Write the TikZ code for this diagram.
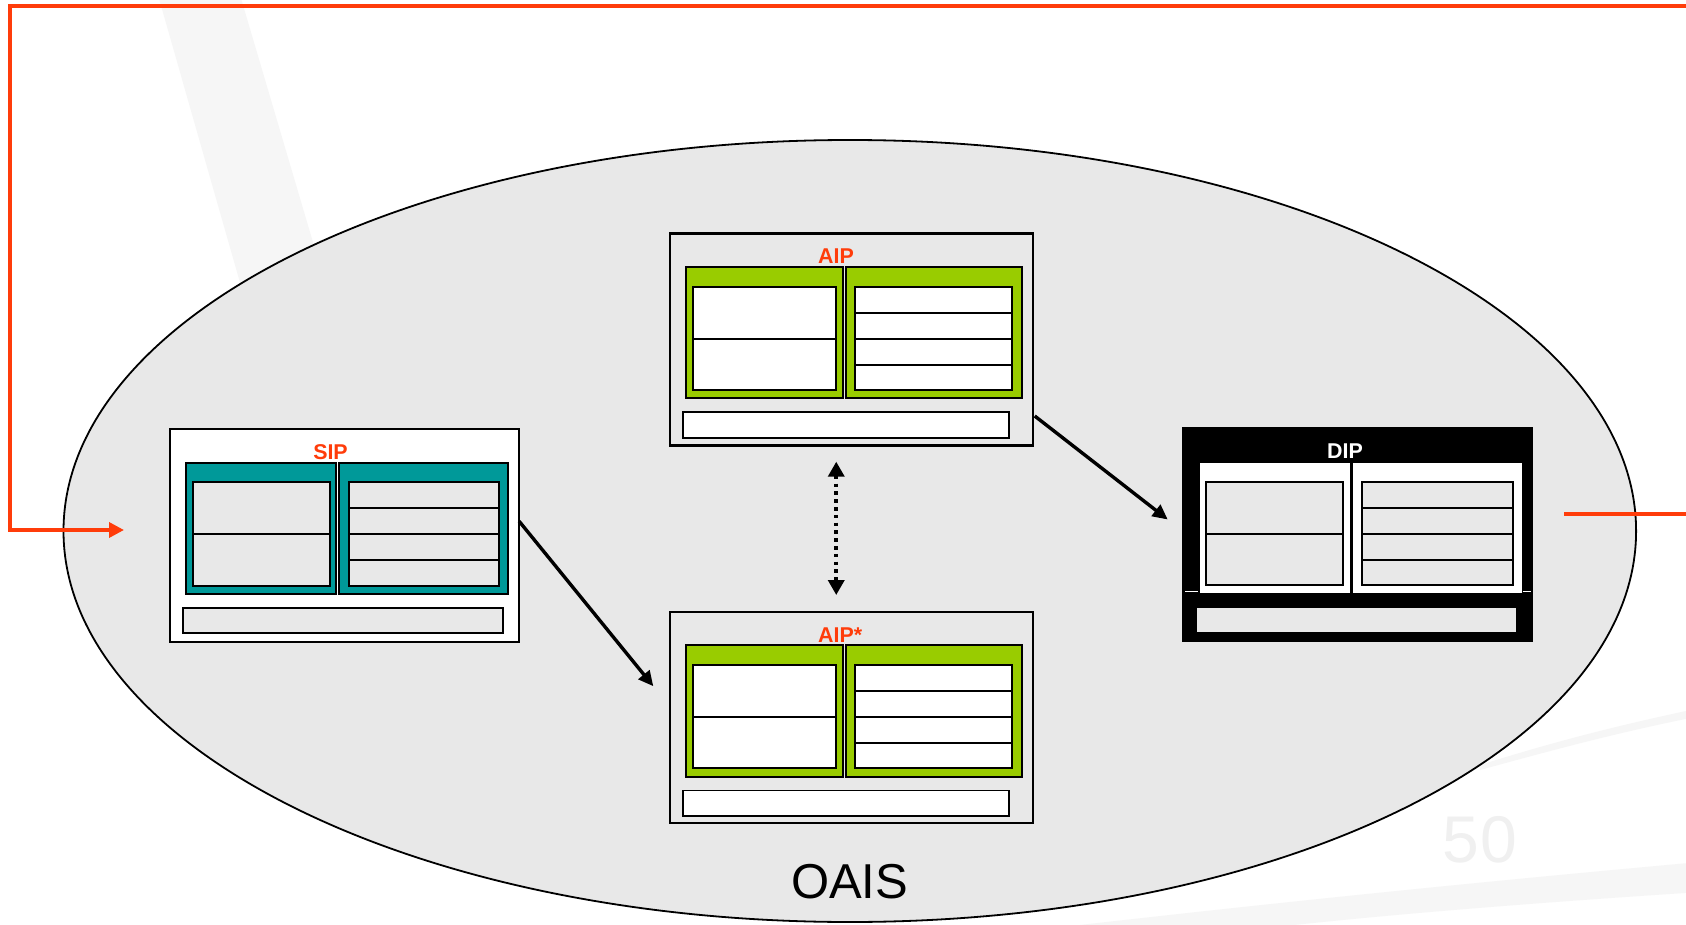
\documentclass[tikz,border=0pt]{standalone}
\usepackage{fontspec}
\setmainfont{Liberation Sans}
\usetikzlibrary{calc,arrows.meta,shapes.geometric}
\definecolor{oaisgray}{HTML}{E8E8E8}
\definecolor{flowred}{HTML}{FF3C0A}
\definecolor{sipteal}{HTML}{009999}
\definecolor{aipgreen}{HTML}{99CC00}
\definecolor{faint}{HTML}{F6F6F6}

\tikzset{
  packet width/.initial=349,
  packet height/.initial=213,
  packet bar margin/.initial=15,
  packet title x/.initial=13,
  packet frame/.style={draw=black, line width=2.4pt, fill=white},
  packet panel/.style={draw=black, line width=2pt, fill=sipteal},
  packet cell/.style={draw=black, line width=2pt, fill=oaisgray},
  packet rule/.style={draw=black, line width=2pt},
  packet bar/.style={draw=black, line width=1.8pt, fill=oaisgray},
  packet title/.style={text=flowred},
  pics/packet/.style={code={
    \pgfmathsetmacro\pktW{\pgfkeysvalueof{/tikz/packet width}}
    \pgfmathsetmacro\pktH{\pgfkeysvalueof{/tikz/packet height}}
    \pgfmathsetmacro\pktM{\pktW/2}
    \pgfmathsetmacro\pktB{\pktW-\pgfkeysvalueof{/tikz/packet bar margin}}
    \pgfmathsetmacro\pktT{\pktM-\pgfkeysvalueof{/tikz/packet title x}}
    \node[packet frame, minimum width=\pktW pt, minimum height=\pktH pt,
          inner sep=0pt, anchor=north west] (-frame) at (0,0) {};
    % content information and preservation description panels
    \draw[packet panel] (17,34.5) rectangle ({\pktM-7.5},166);
    \draw[packet panel] ({\pktM-4.8},34.5) rectangle ({\pktW-10},166);
    \draw[packet cell] (23.7,54.3) rectangle ({\pktM-14},157.7);
    \draw[packet rule] (23.7,106.3) -- ({\pktM-14},106.3);
    \draw[packet cell] ({\pktM+5},54.3) rectangle ({\pktW-19.5},157.7);
    \foreach \yy in {80.3,106.3,132.3}
      \draw[packet rule] ({\pktM+5},\yy) -- ({\pktW-19.5},\yy);
    % packaging information bar
    \draw[packet bar] (14.3,179.7) rectangle (\pktB,205.3);
    \node[packet title, font=\bfseries\fontsize{21.4}{24}\selectfont,
          anchor=base, inner sep=0pt] (-title) at (\pktT,31.3) {#1};
  }},
  flow/.style={draw=black, line width=3.4pt, -{Triangle[length=15pt,width=14pt]}},
  link/.style={draw=black, line width=3.6pt, dash pattern=on 3.6pt off 4.2pt,
    {Triangle[length=15pt,width=16pt]}-{Triangle[length=15pt,width=16pt]}},
  loop/.style={draw=flowred, line width=3.5pt, line join=miter,
    -{Triangle[length=15pt,width=15pt]}},
}

\begin{document}
\begin{tikzpicture}[x=1pt, y=-1pt]
  \useasboundingbox (0,0) rectangle (1686,925);
  \clip (0,0) rectangle (1686,925);
  \fill[white] (0,0) rectangle (1686,925);

  % faint background marks
  \fill[faint] (158,-5) -- (240,-5) -- (330,300) -- (245,300) -- cycle;
  \fill[faint] (1080,925) .. controls (1300,900) and (1500,880) .. (1700,862)
    -- (1700,892) .. controls (1500,905) and (1350,918) .. (1250,930) -- cycle;
  \fill[faint] (1480,765) .. controls (1560,740) and (1620,725) .. (1700,708)
    -- (1700,716) .. controls (1620,732) and (1560,748) .. (1480,770) -- cycle;
  \node[text=black!6, font=\fontsize{66}{70}\selectfont, anchor=base] (mark) at (1480,862) {5\kern2pt0};

  % the archive
  \node[ellipse, draw=black, line width=1.8pt, fill=oaisgray,
        minimum width=1572.6pt, minimum height=782pt, inner sep=0pt] (oais) at (849.8,531) {};
  \node[font=\fontsize{49}{58}\selectfont, anchor=base, inner sep=0pt] (oaislabel) at (849.7,898.3) {OAIS};

  % information packages
  \pic (sip) at (169,428) {packet=SIP};
  \pic[packet width=362.7, packet height=212, packet bar margin=22.7,
       packet title x=14.4,
       packet frame/.style={draw=black, line width=2.4pt},
       packet panel/.style={draw=black, line width=2pt, fill=aipgreen},
       packet cell/.style={draw=black, line width=2pt, fill=white},
       packet bar/.style={draw=black, line width=1.8pt, fill=white}]
       (aip) at (669,232.3) {packet=AIP};
  \pic[packet width=362.7, packet height=211, packet bar margin=22.7,
       packet title x=14.4,
       packet frame/.style={draw=black, line width=2.4pt},
       packet panel/.style={draw=black, line width=2pt, fill=aipgreen},
       packet cell/.style={draw=black, line width=2pt, fill=white},
       packet bar/.style={draw=black, line width=1.8pt, fill=white}]
       (aips) at (669,610.7) {packet={AIP\rlap{*}}};
  \pic[packet width=350, packet height=213.4, packet bar margin=16.6,
       packet title x=12.3,
       packet frame/.style={draw=black, line width=1pt, fill=black},
       packet panel/.style={fill=white},
       packet cell/.style={draw=black, line width=2pt, fill=oaisgray},
       packet bar/.style={fill=oaisgray},
       packet title/.style={text=white}]
       (dip) at (1182.3,427.3) {packet=DIP};
  \draw[white, line width=1pt] ($(dip-frame.north west)+(2.7,163.7)$) -- ++(13,0);
  \draw[white, line width=1pt] ($(dip-frame.north east)+(-10.6,163.7)$) -- ++(8.3,0);

  % transformations between packages
  \draw[flow] ($(sip-frame.east)+(-1.3,-14.5)$) -- ($(aips-frame.west)+(-15.7,-31.2)$);
  \draw[flow] ($(aip-frame.south east)+(0.6,-30.7)$) -- ($(dip-frame.west)+(-14.6,-15)$);
  \draw[link] ($(aip-frame.south)+(-15.3,15)$) -- ($(aips-frame.north)+(-15.3,-15.7)$);

  % submission in, dissemination out
  \coordinate (sipin) at (124,530);
  \coordinate (dipout) at (1564,514);
  \draw[loop] (dipout) -- (1720,514) -- (1720,6) -- (10,6) -- (10,530) -- (sipin);
\end{tikzpicture}
\end{document}
